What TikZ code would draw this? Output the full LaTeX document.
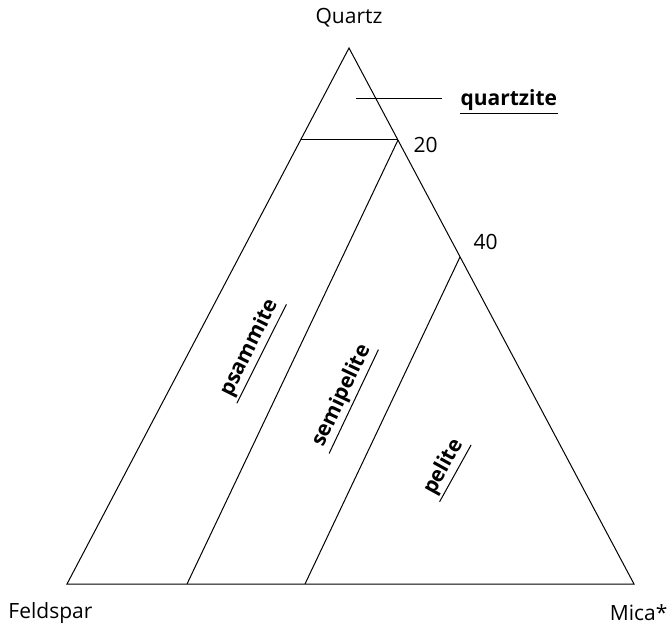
\documentclass[tikz,border=0pt]{standalone}
\usepackage{fontspec}
\setmainfont{Open Sans}
\begin{document}
\begin{tikzpicture}[x=1pt,y=-1pt,line width=1pt,
  lbl/.style={font=\fontsize{21}{24}\selectfont, inner sep=0pt},
  rock/.style={font=\fontsize{21}{24}\selectfont\bfseries, inner sep=0pt},
  rotrock/.style={rock, inner sep=2pt}]
\useasboundingbox (0,0) rectangle (669,628);
% vertices
\coordinate (Q) at (349,48);
\coordinate (F) at (67,584);
\coordinate (M) at (634,584);
\draw (Q) -- (F) -- (M) -- cycle;
% internal lines
\coordinate (a20l) at (301,140);
\coordinate (a20r) at (398,140);
\coordinate (b20) at (187,584);
\coordinate (a40) at (460,257);
\coordinate (b40) at (305,584);
\draw (a20l) -- (a20r);
\draw (a20r) -- (b20);
\draw (a40) -- (b40);
% leader line
\coordinate (ls) at (356,99);
\coordinate (le) at (442,99);
\draw (ls) -- (le);
% labels
\node[lbl] (nQ) at (349,18) {Quartz};
\node[lbl, anchor=west] (nF) at (8,613) {Feldspar};
\node[lbl, anchor=east] (nM) at (668,613) {Mica*};
\node[lbl, anchor=west] (n20) at (413,145) {20};
\node[lbl, anchor=west] (n40) at (473,242) {40};
\node[rock, anchor=west] (qz) at (460,100) {quartzite};
\draw ([yshift=-3pt]qz.south west) -- ([yshift=-3pt]qz.south east);
% rotated rock names
\node[rotrock, rotate=63.4] (ps) at (250,348) {psammite};
\draw (ps.south west) -- (ps.south east);
\node[rotrock, rotate=64.6] (sp) at (342,396) {semipelite};
\draw (sp.south west) -- (sp.south east);
\node[rotrock, rotate=61] (pe) at (444,467) {pelite};
\draw (pe.south west) -- (pe.south east);
\end{tikzpicture}
\end{document}
